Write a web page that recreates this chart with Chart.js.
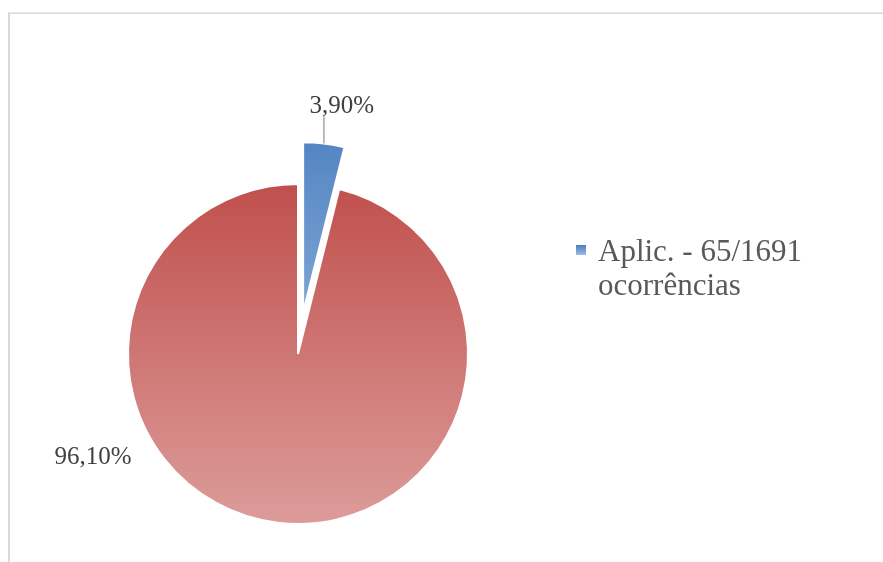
<!DOCTYPE html>
<html>
<head>
<meta charset="utf-8">
<script src="https://cdn.jsdelivr.net/npm/chart.js@4.4.1/dist/chart.umd.min.js"></script>
<style>
  html, body { margin: 0; padding: 0; background: #fff; }
  #wrap { position: relative; width: 883px; height: 562px; }
</style>
</head>
<body>
<div id="wrap"><canvas id="pie" width="883" height="562"></canvas></div>
<script>
// data
const categories = ['Aplic. - 65/1691 ocorrências', 'Outras ocorrências'];
const shares = [3.9, 96.1];
const valueLabels = ['3,90%', '96,10%'];
const legendLines = ['Aplic. - 65/1691', 'ocorrências'];

// look
const explode = [42, 0]; // px the slice is pulled out
const gradStops = [['#4a7ebf', '#9dbbe2'], ['#c0504d', '#dc9c9a']];
const RADIUS = 170;
const serif = '"Liberation Serif", "Times New Roman", serif';

function centre(chart) {
  const a = chart.chartArea;
  return { x: (a.left + a.right) / 2, y: (a.top + a.bottom) / 2 };
}

function sliceGradient(chart, i) {
  const c = centre(chart);
  const shiftY = -explode[i]; // slice pulled up, gradient goes with it
  const g = chart.ctx.createLinearGradient(0, c.y - RADIUS + shiftY, 0, c.y + RADIUS + shiftY);
  g.addColorStop(0, gradStops[i][0]);
  g.addColorStop(1, gradStops[i][1]);
  return g;
}

// draws the slices, moving the exploded one out along its mid angle
const explodePlugin = {
  id: 'explode',
  beforeDatasetDraw(chart, args) {
    const ctx = chart.ctx;
    args.meta.data.forEach((arc, i) => {
      const mid = (arc.startAngle + arc.endAngle) / 2;
      ctx.save();
      ctx.translate(Math.cos(mid) * explode[i], Math.sin(mid) * explode[i]);
      arc.draw(ctx);
      ctx.restore();
    });
    return false;
  }
};

const framePlugin = {
  id: 'frame',
  beforeDraw(chart) {
    const ctx = chart.ctx;
    ctx.save();
    ctx.fillStyle = '#d9d9d9';
    ctx.fillRect(8, 12.5, 875, 1.5);
    ctx.fillRect(8, 12.5, 2, 550);
    ctx.restore();
  }
};

const labelPlugin = {
  id: 'labels',
  afterDatasetsDraw(chart) {
    const ctx = chart.ctx;
    const arcs = chart.getDatasetMeta(0).data;
    ctx.save();
    ctx.font = '25px ' + serif;
    ctx.fillStyle = '#404040';
    ctx.textAlign = 'center';
    ctx.textBaseline = 'alphabetic';

    // small slice: leader line straight up from the outer edge
    const a = arcs[0];
    const mid = (a.startAngle + a.endAngle) / 2;
    const ex = a.x + Math.cos(mid) * (explode[0] + RADIUS);
    const ey = a.y + Math.sin(mid) * (explode[0] + RADIUS);
    ctx.strokeStyle = '#a6a6a6';
    ctx.lineWidth = 1.5;
    ctx.beginPath();
    ctx.moveTo(ex, ey);
    ctx.lineTo(ex, ey - 27);
    ctx.stroke();
    ctx.fillText(valueLabels[0], ex + 18, ey - 31);

    // big slice: label outside, lower left
    const b = arcs[1];
    ctx.fillText(valueLabels[1], b.x - 205, b.y + 110);

    // legend (only the first category is shown in the original)
    const lx = 576, ly = 245;
    const mg = ctx.createLinearGradient(0, ly, 0, ly + 10);
    mg.addColorStop(0, gradStops[0][0]);
    mg.addColorStop(1, gradStops[0][1]);
    ctx.fillStyle = mg;
    ctx.fillRect(lx, ly, 10, 10);
    ctx.font = '31px ' + serif;
    ctx.fillStyle = '#595959';
    ctx.textAlign = 'left';
    legendLines.forEach((t, k) => ctx.fillText(t, lx + 22, 261 + k * 34));
    ctx.restore();
  }
};

new Chart(document.getElementById('pie'), {
  type: 'pie',
  data: {
    labels: categories,
    datasets: [{
      data: shares,
      backgroundColor: ctx => ctx.chart.chartArea ? sliceGradient(ctx.chart, ctx.dataIndex) : gradStops[ctx.dataIndex][0],
      borderColor: '#ffffff',
      borderWidth: 2
    }]
  },
  options: {
    responsive: false,
    animation: false,
    radius: RADIUS,
    layout: { padding: { left: 0, right: 287, top: 170, bottom: 24 } },
    plugins: {
      legend: { display: false },
      tooltip: { enabled: false }
    }
  },
  plugins: [framePlugin, explodePlugin, labelPlugin]
});
</script>
</body>
</html>
